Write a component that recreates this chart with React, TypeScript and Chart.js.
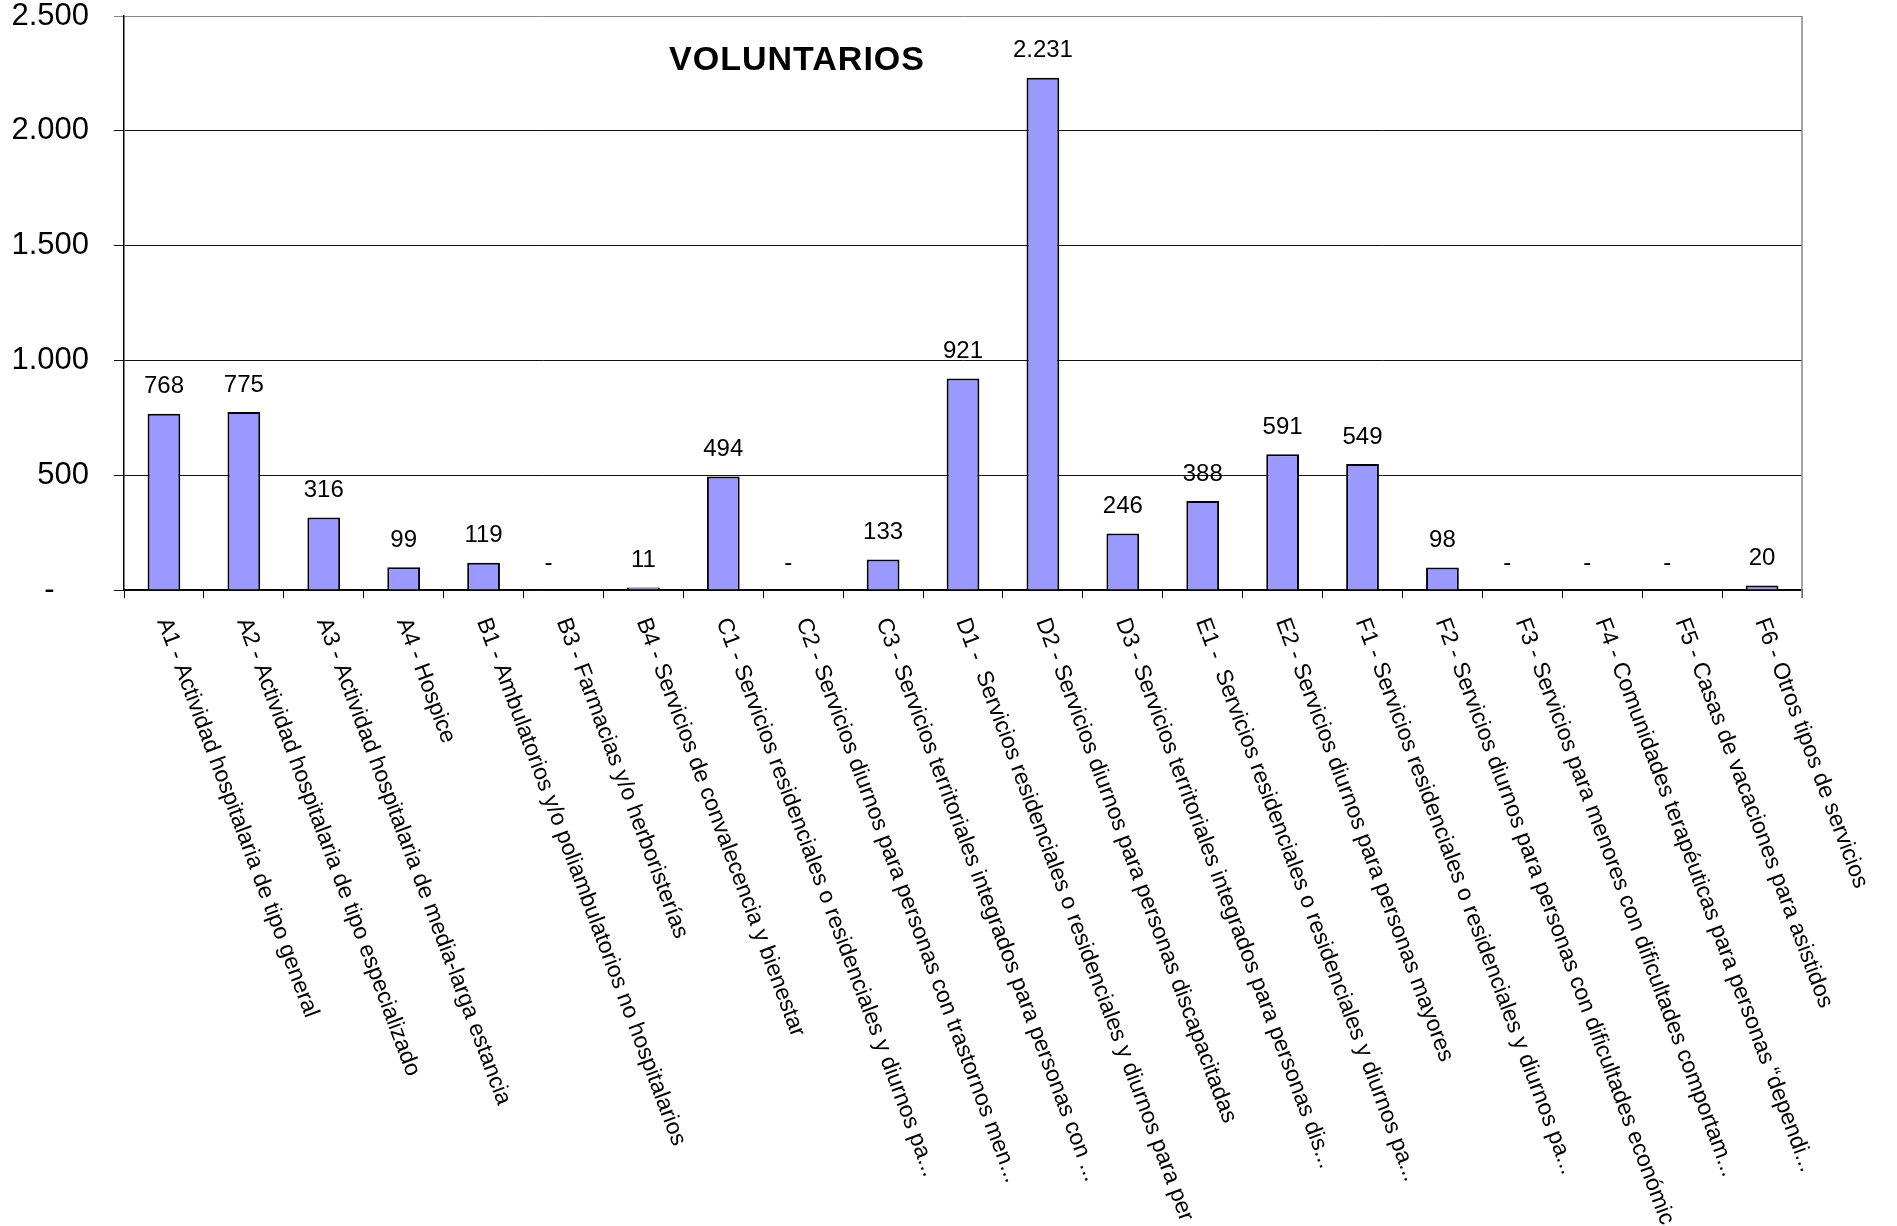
import React, { useEffect, useRef } from 'react';
import { Chart, registerables } from 'chart.js';

Chart.register(...registerables);

const chartTitle = 'VOLUNTARIOS';

const categories = [
  'A1 - Actividad hospitalaria de tipo general',
  'A2 - Actividad hospitalaria de tipo especializado',
  'A3 - Actividad hospitalaria de media-larga estancia',
  'A4 - Hospice',
  'B1 - Ambulatorios y/o poliambulatorios no hospitalarios',
  'B3 - Farmacias y/o herboristerías',
  'B4 - Servicios de convalecencia y bienestar',
  'C1 - Servicios residenciales o residenciales y diurnos pa...',
  'C2 - Servicios diurnos para personas con trastornos men...',
  'C3 - Servicios territoriales integrados para personas con ...',
  'D1 -  Servicios residenciales o residenciales y diurnos para per',
  'D2 - Servicios diurnos para personas discapacitadas',
  'D3 - Servicios territoriales integrados para personas dis...',
  'E1 -  Servicios residenciales o residenciales y diurnos pa...',
  'E2 - Servicios diurnos para personas mayores',
  'F1 - Servicios residenciales o residenciales y diurnos pa...',
  'F2 - Servicios diurnos para personas con dificultades económic',
  'F3 - Servicios para menores con dificultades comportam...',
  'F4 - Comunidades terapéuticas para personas “dependi...',
  'F5 - Casas de vacaciones para asistidos',
  'F6 - Otros tipos de servicios',
];

const voluntarios = [768, 775, 316, 99, 119, 0, 11, 494, 0, 133, 921, 2231, 246, 388, 591, 549, 98, 0, 0, 0, 20];

const yMin = 0;
const yMax = 2500;
const yStep = 500;

const FONT = '"Liberation Sans", Arial, Helvetica, sans-serif';

const fmt = (v: number) =>
  v === 0 ? '-' : Math.round(v).toString().replace(/\B(?=(\d{3})+(?!\d))/g, '.');

const overlayPlugin = {
  id: 'overlay',
  afterDraw(chart: any) {
    const { ctx, chartArea } = chart;
    const xScale = chart.scales.x;
    ctx.save();

    // right border of plot
    ctx.strokeStyle = '#888';
    ctx.lineWidth = 1.5;
    ctx.beginPath();
    ctx.moveTo(chartArea.right, chartArea.top);
    ctx.lineTo(chartArea.right, chartArea.bottom + 8);
    ctx.stroke();

    // data labels
    const meta = chart.getDatasetMeta(0);
    ctx.fillStyle = '#000';
    ctx.font = `24px ${FONT}`;
    ctx.textAlign = 'center';
    ctx.textBaseline = 'middle';
    meta.data.forEach((bar: any, i: number) => {
      const v = voluntarios[i];
      const x = v === 0 ? bar.x - 15 : bar.x;
      ctx.fillText(fmt(v), x, bar.y - 27);
    });

    // rotated category labels
    ctx.font = `23px ${FONT}`;
    ctx.textAlign = 'left';
    ctx.textBaseline = 'middle';
    const ang = (69.5 * Math.PI) / 180;
    categories.forEach((lab, i) => {
      const x = xScale.getPixelForValue(i);
      ctx.save();
      ctx.translate(x - 1, chartArea.bottom + 29);
      ctx.rotate(ang);
      ctx.fillText(lab, 0, 0);
      ctx.restore();
    });

    // title
    ctx.font = `bold 34px ${FONT}`;
    (ctx as any).letterSpacing = '1px';
    ctx.textAlign = 'center';
    ctx.textBaseline = 'middle';
    ctx.fillText(chartTitle, 797, 61);
    ctx.restore();
  },
};

export default function App() {
  const ref = useRef<HTMLCanvasElement | null>(null);

  useEffect(() => {
    document.body.style.margin = '0';
    const canvas = ref.current;
    if (!canvas) return;
    const chart = new Chart(canvas, {
      type: 'bar',
      data: {
        labels: categories,
        datasets: [
          {
            data: voluntarios,
            backgroundColor: '#9999FF',
            borderColor: '#000',
            borderWidth: 2,
            borderSkipped: 'start',
            categoryPercentage: 1,
            barPercentage: 0.41,
          },
        ],
      },
      options: {
        responsive: false,
        maintainAspectRatio: false,
        animation: false,
        devicePixelRatio: 1,
        layout: { padding: { top: 16, right: 95, left: 0, bottom: 0 } },
        plugins: {
          legend: { display: false },
          tooltip: { enabled: false },
          title: { display: false },
        },
        scales: {
          x: {
            grid: {
              display: true,
              drawOnChartArea: false,
              drawTicks: true,
              tickLength: 8,
              color: '#000',
              lineWidth: 1,
              offset: true,
            },
            border: { display: true, color: '#000', width: 1.5 },
            ticks: { display: false },
            afterFit: (s: any) => {
              s.height = 636;
              s.paddingLeft = 0;
              s.paddingRight = 0;
            },
          },
          y: {
            min: yMin,
            max: yMax,
            ticks: {
              stepSize: yStep,
              callback: (v: any) => (Number(v) === 0 ? '-    ' : fmt(Number(v))),
              font: { family: FONT, size: 31 },
              color: '#000',
              padding: 25,
            },
            grid: {
              color: (c: any) => (c.tick && c.tick.value === yMax ? '#888' : '#111'),
              lineWidth: 1,
              tickLength: 10,
            },
            border: { display: true, color: '#000', width: 1.5 },
            afterFit: (s: any) => {
              s.width = 124;
              s.paddingTop = 0;
              s.paddingBottom = 0;
            },
          },
        },
      },
      plugins: [overlayPlugin],
    } as any);
    return () => chart.destroy();
  }, []);

  return (
    <div style={{ width: 1897, height: 1226, overflow: 'hidden', background: '#fff' }}>
      <canvas ref={ref} width={1897} height={1226} style={{ display: 'block' }} />
    </div>
  );
}
